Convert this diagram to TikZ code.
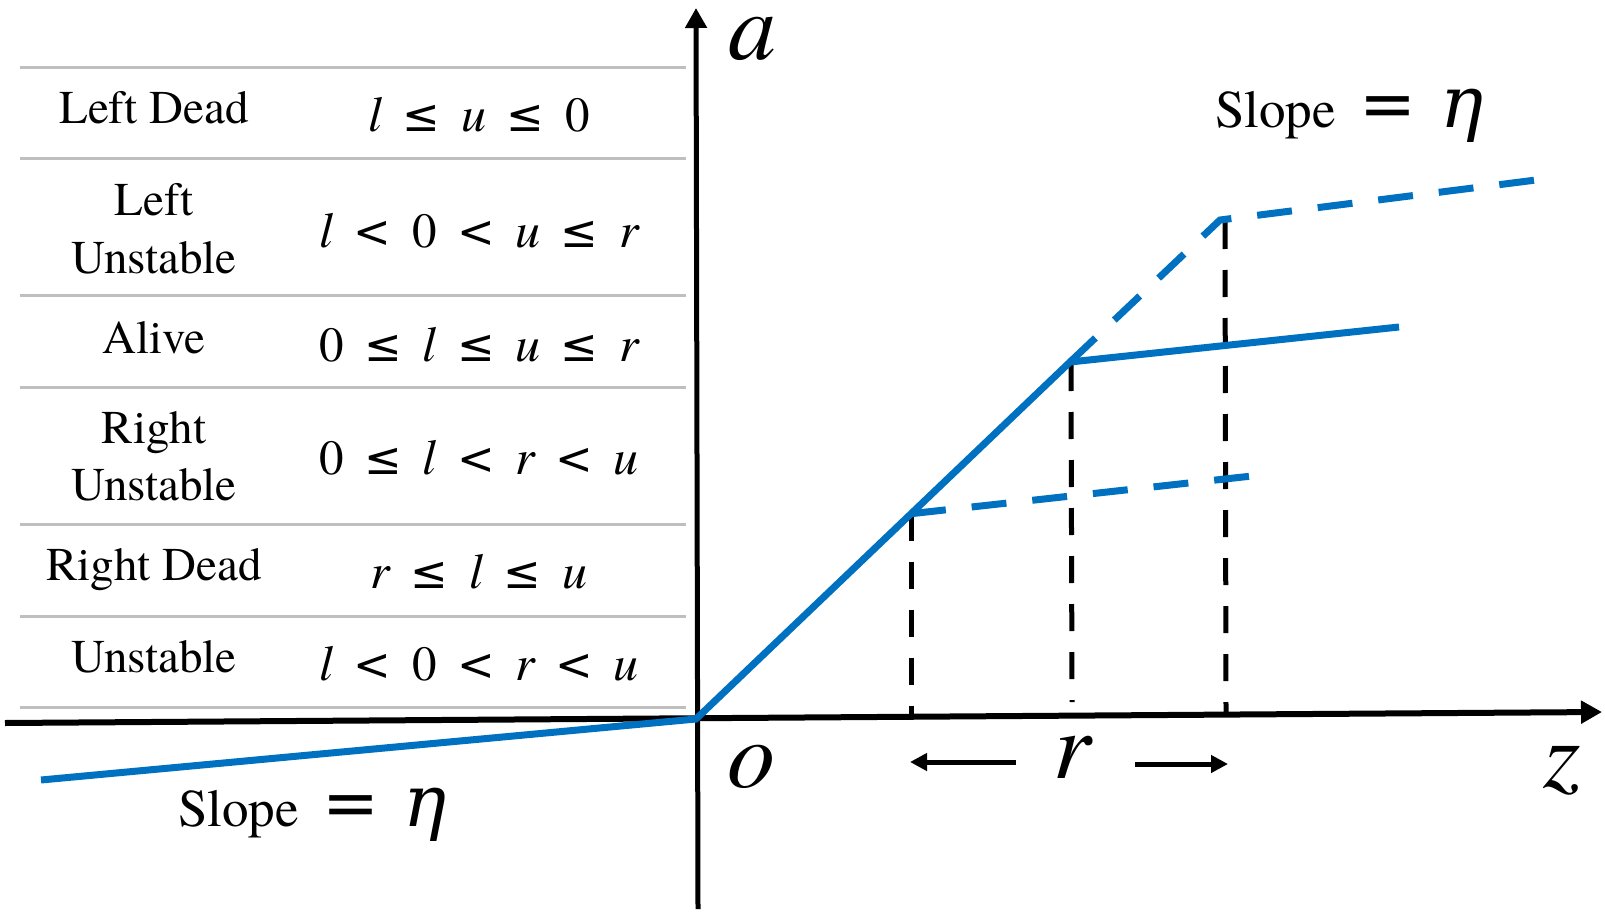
\documentclass[tikz,border=0pt]{standalone}
\usepackage{fontspec}
\setmainfont{texgyretermes}[Extension=.otf, UprightFont=*-regular, ItalicFont=*-italic, BoldFont=*-bold, BoldItalicFont=*-bolditalic]
\newfontfamily\symfont{DejaVu Sans}
\newfontfamily\greekfont{DejaVu Serif}
\usetikzlibrary{arrows.meta}
\definecolor{lineblue}{HTML}{0070C0}
\definecolor{rulegray}{HTML}{BFBFBF}
\newcommand{\mvar}[1]{{\fontsize{50}{52}\selectfont\itshape #1}}
\newcommand{\mrel}[1]{\hspace{0.42em}{\symfont\fontsize{45}{45}\selectfont #1}\hspace{0.42em}}
\newcommand{\slopeline}{Slope\hspace{24pt}{\symfont\fontsize{68}{68}\selectfont =}\hspace{24pt}{\greekfont\itshape\fontsize{72}{72}\selectfont η}}
\begin{document}
\begin{tikzpicture}[x=1pt,y=-1pt,
  rowtext/.style={font=\fontsize{47}{50}\selectfont, anchor=base, inner sep=0pt},
  formula/.style={font=\fontsize{49}{52}\selectfont, anchor=base, inner sep=0pt},
  axislabel/.style={font=\fontsize{96}{98}\selectfont\itshape, anchor=base, inner sep=0pt},
  slopetext/.style={font=\fontsize{53}{56}\selectfont, anchor=base west, inner sep=0pt},
  tablerule/.style={rulegray, line width=3pt},
  axisline/.style={black, line width=6pt, -{Triangle[length=21pt,width=22pt]}},
  relu/.style={lineblue, line width=7pt, line join=miter},
  reludash/.style={relu, dash pattern=on 35pt off 26pt},
  guide/.style={black, line width=5pt, dash pattern=on 27pt off 21pt},
  rarrow/.style={black, line width=5pt, -{Triangle[length=17pt,width=17pt]}}]

\useasboundingbox (0,0) rectangle (1605,912);

% table rules
\foreach \yy in {67.5,159,295.5,387.5,524,616,707.5}
  \draw[tablerule] (20,\yy) -- (686,\yy);

% table text
\node[rowtext] (c1) at (154,124) {Left Dead};
\node[formula] (f1) at (479,132) {\mvar{l}\mrel{≤}\mvar{u}\mrel{≤}0};
\node[rowtext] (c2a) at (154,215) {Left};
\node[rowtext] (c2b) at (154,273) {Unstable};
\node[formula] (f2) at (479,247) {\mvar{l}\mrel{<}0\mrel{<}\mvar{u}\mrel{≤}\mvar{r}};
\node[rowtext] (c3) at (154,353) {Alive};
\node[formula] (f3) at (479,361) {0\mrel{≤}\mvar{l}\mrel{≤}\mvar{u}\mrel{≤}\mvar{r}};
\node[rowtext] (c4a) at (154,443) {Right};
\node[rowtext] (c4b) at (154,500) {Unstable};
\node[formula] (f4) at (479,474) {0\mrel{≤}\mvar{l}\mrel{<}\mvar{r}\mrel{<}\mvar{u}};
\node[rowtext] (c5) at (154,580) {Right Dead};
\node[formula] (f5) at (479,588) {\mvar{r}\mrel{≤}\mvar{l}\mrel{≤}\mvar{u}};
\node[rowtext] (c6) at (154,672) {Unstable};
\node[formula] (f6) at (479,680) {\mvar{l}\mrel{<}0\mrel{<}\mvar{r}\mrel{<}\mvar{u}};

% axes
\coordinate (xl) at (5,723);
\coordinate (xr) at (1602,712);
\coordinate (yb) at (698,909);
\coordinate (yt) at (696,8);
\draw[axisline] (xl) -- (xr);
\draw[axisline, line width=5pt, -{Triangle[length=20pt,width=21pt]}] (yb) -- (yt);

% key points
\coordinate (O) at (696,719);
\coordinate (Lend) at (41,780);
\coordinate (K1) at (911,513.7);
\coordinate (K2) at (1070,362);
\coordinate (K3) at (1220,220);
\coordinate (E1) at (1261,475);
\coordinate (E2) at (1399,327);
\coordinate (E3) at (1544,179);

% guides
\coordinate (G1t) at (911,514);
\coordinate (G1b) at (911,717);
\coordinate (G2t) at (1071,364);
\coordinate (G2b) at (1072,702);
\coordinate (G3t) at (1225,222);
\coordinate (G3b) at (1226,713);
\draw[guide] (G1t) -- (G1b);
\draw[guide] (G2t) -- (G2b);
\draw[guide] (G3t) -- (G3b);

% blue lines
\draw[relu] (Lend) -- (O) -- (K2) -- (E2);
\draw[reludash] (K1) -- (E1);
\draw[reludash] (K2) -- (K3) -- (E3);

% axis labels
\node[axislabel] (alab) at (752,60) {a};
\node[axislabel] (olab) at (751,787) {o};
\node[axislabel] (zlab) at (1562,787) {z};
\node[axislabel] (rlab) at (1072,778) {r};

% r arrows
\coordinate (rl1) at (1016,762);
\coordinate (rl2) at (910,762);
\coordinate (rr1) at (1135,764);
\coordinate (rr2) at (1228,764);
\draw[rarrow] (rl1) -- (rl2);
\draw[rarrow] (rr1) -- (rr2);

% slope labels
\node[slopetext] (slopetop) at (1215,128) {\slopeline};
\node[slopetext] (slopebot) at (178,826) {\slopeline};
\end{tikzpicture}
\end{document}
